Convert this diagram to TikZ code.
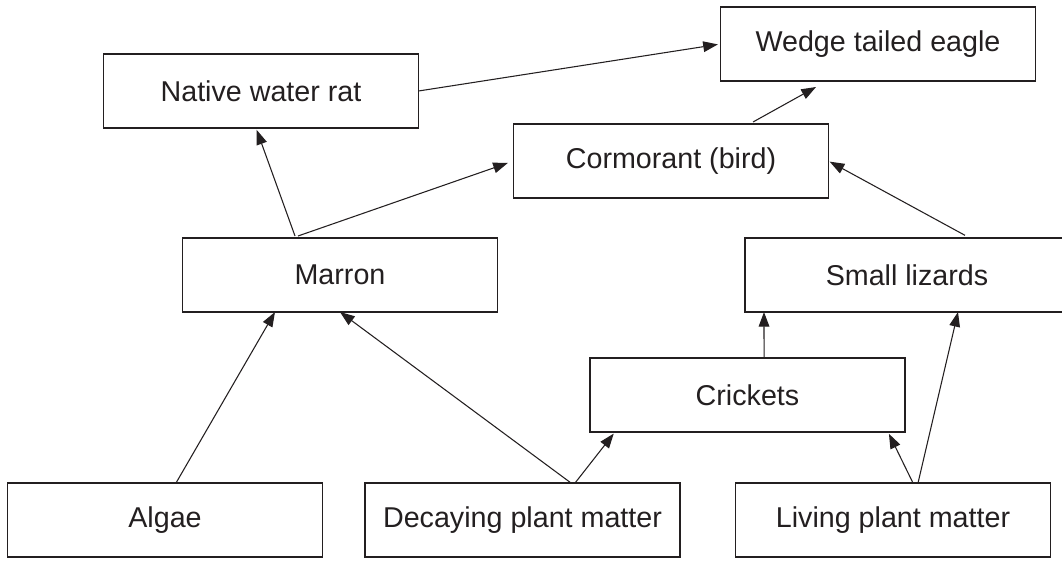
\documentclass[tikz,border=0pt]{standalone}
\usepackage{fontspec}
\setmainfont{Liberation Sans}
\usetikzlibrary{arrows.meta}
\definecolor{ink}{RGB}{35,31,32}
\begin{document}
\begin{tikzpicture}[x=0.75pt,y=-0.75pt,
  box/.style={draw=ink, line width=1pt, rectangle, minimum width=236.25pt, minimum height=55.5pt,
    inner sep=0pt, outer sep=0pt, text=ink, font=\fontsize{21.5}{25}\selectfont},
  link/.style={draw=ink, line width=0.8pt, -{Triangle[length=11pt,width=8pt]}}]
\useasboundingbox (0,0) rectangle (1062,561);
% nodes
\node[box] (eagle) at (878,44) {Wedge tailed eagle};
\node[box] (rat) at (261,91) {Native water rat};
\node[box] (cormorant) at (671,161) {Cormorant (bird)};
\node[box] (marron) at (340,275) {Marron};
\node[box, minimum width=243pt] (lizards) at (907,275) {Small lizards};
\node[box] (crickets) at (747.5,395) {Crickets};
\node[box] (algae) at (165,520) {Algae};
\node[box] (decaying) at (522.5,520) {Decaying plant matter};
\node[box] (living) at (893,520) {Living plant matter};
% connectors
\draw[link, shorten >=2pt] (rat.east) -- (eagle.west);
\draw[link, shorten >=1.5pt] ([xshift=-33.75pt,yshift=1.5pt]marron.north) -- ([xshift=-3.75pt]rat.south);
\draw[link, shorten >=4.5pt] ([xshift=-31.5pt,yshift=1.5pt]marron.north) -- (cormorant.west);
\draw[link] ([xshift=61.5pt,yshift=1.5pt]cormorant.north) -- ([xshift=-46.5pt,yshift=-4.5pt]eagle.south);
\draw[link, shorten >=1pt] ([xshift=43.5pt,yshift=2pt]lizards.north) -- (cormorant.east);
\draw[link] ([xshift=8.25pt]algae.north) -- ([xshift=-48.75pt]marron.south);
\draw[link] ([xshift=36.4pt]decaying.north) -- (marron.south);
\draw[link, shorten >=1.5pt] ([xshift=39.4pt]decaying.north) -- ([xshift=-99.4pt]crickets.south);
\draw[link] ([xshift=12.4pt]crickets.north) -- ([xshift=-107.25pt]lizards.south);
\draw[link, shorten >=1.5pt] ([xshift=15pt]living.north) -- ([xshift=105.4pt]crickets.south);
\draw[link] ([xshift=18.75pt]living.north) -- ([xshift=38.25pt]lizards.south);
\end{tikzpicture}
\end{document}
